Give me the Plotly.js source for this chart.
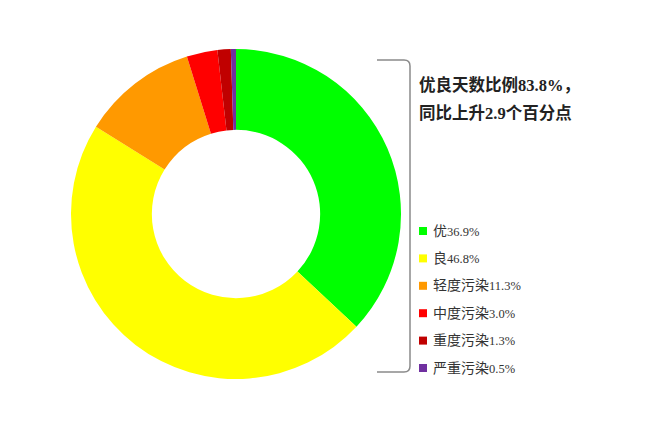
<!DOCTYPE html>
<html>
<head>
<meta charset="utf-8">
<script src="https://cdn.plot.ly/plotly-3.0.1.min.js"></script>
<style>
  html, body { margin: 0; padding: 0; background: #fff; }
  #chart { width: 650px; height: 432px; }
</style>
</head>
<body>
<div id="chart"></div>
<script>
var labels = ["优", "良", "轻度污染", "中度污染", "重度污染", "严重污染"];
var values = [36.9, 46.8, 11.3, 3.0, 1.3, 0.5];
var colors = ["#00ff00", "#ffff00", "#ff9900", "#ff0000", "#c00000", "#7030a0"];
var noteLines = ["优良天数比例83.8%，", "同比上升2.9个百分点"];

// pixel -> paper helpers (margins are zero)
function px(x) { return x / 650; }
function py(y) { return 1 - y / 432; }

var data = [{
    type: "pie",
    labels: labels,
    values: values,
    hole: 0.51,
    sort: false,
    direction: "clockwise",
    rotation: 0,
    textinfo: "none",
    hoverinfo: "label+percent",
    marker: { colors: colors, line: { width: 0 } },
    domain: { x: [px(71), px(401)], y: [py(379), py(49)] },
    showlegend: false
}];

var shapes = [];
var annotations = [];

// bracket on the right of the donut
shapes.push({
    type: "path",
    xref: "paper", yref: "paper",
    path: "M " + px(377) + "," + py(60) +
          " L " + px(404) + "," + py(60) +
          " Q " + px(410) + "," + py(60) + " " + px(410) + "," + py(66) +
          " L " + px(410) + "," + py(366) +
          " Q " + px(410) + "," + py(372) + " " + px(404) + "," + py(372) +
          " L " + px(377) + "," + py(372),
    line: { color: "#8a8a8a", width: 1.5 }
});

// note text
noteLines.forEach(function (t, i) {
    annotations.push({
        xref: "paper", yref: "paper",
        x: px(417), y: py(85 + i * 28),
        xanchor: "left", yanchor: "middle",
        text: "<b>" + t + "</b>",
        showarrow: false,
        font: { family: "Liberation Serif, Noto Sans CJK SC", size: 16.5, color: "#222" }
    });
});

// legend entries: chinese label a bit larger than the serif digits
labels.forEach(function (lab, i) {
    var yc = 231 + i * 27.4;
    shapes.push({
        type: "rect", xref: "paper", yref: "paper",
        x0: px(419), x1: px(427), y0: py(yc + 4), y1: py(yc - 4),
        fillcolor: colors[i], line: { width: 0 }
    });
    annotations.push({
        xref: "paper", yref: "paper",
        x: px(431), y: py(yc),
        xanchor: "left", yanchor: "middle",
        text: "<span style='font-size:14px'>" + lab + "</span>" +
              "<span style='font-size:12.5px'>" + values[i].toFixed(1) + "%</span>",
        showarrow: false,
        font: { family: "Liberation Serif, Noto Sans CJK SC", size: 13, color: "#333" }
    });
});

var layout = {
    width: 650,
    height: 432,
    margin: { t: 0, r: 0, l: 0, b: 0 },
    paper_bgcolor: "#fff",
    plot_bgcolor: "#fff",
    showlegend: false,
    shapes: shapes,
    annotations: annotations
};

Plotly.newPlot("chart", data, layout, { displayModeBar: false });
</script>
</body>
</html>
